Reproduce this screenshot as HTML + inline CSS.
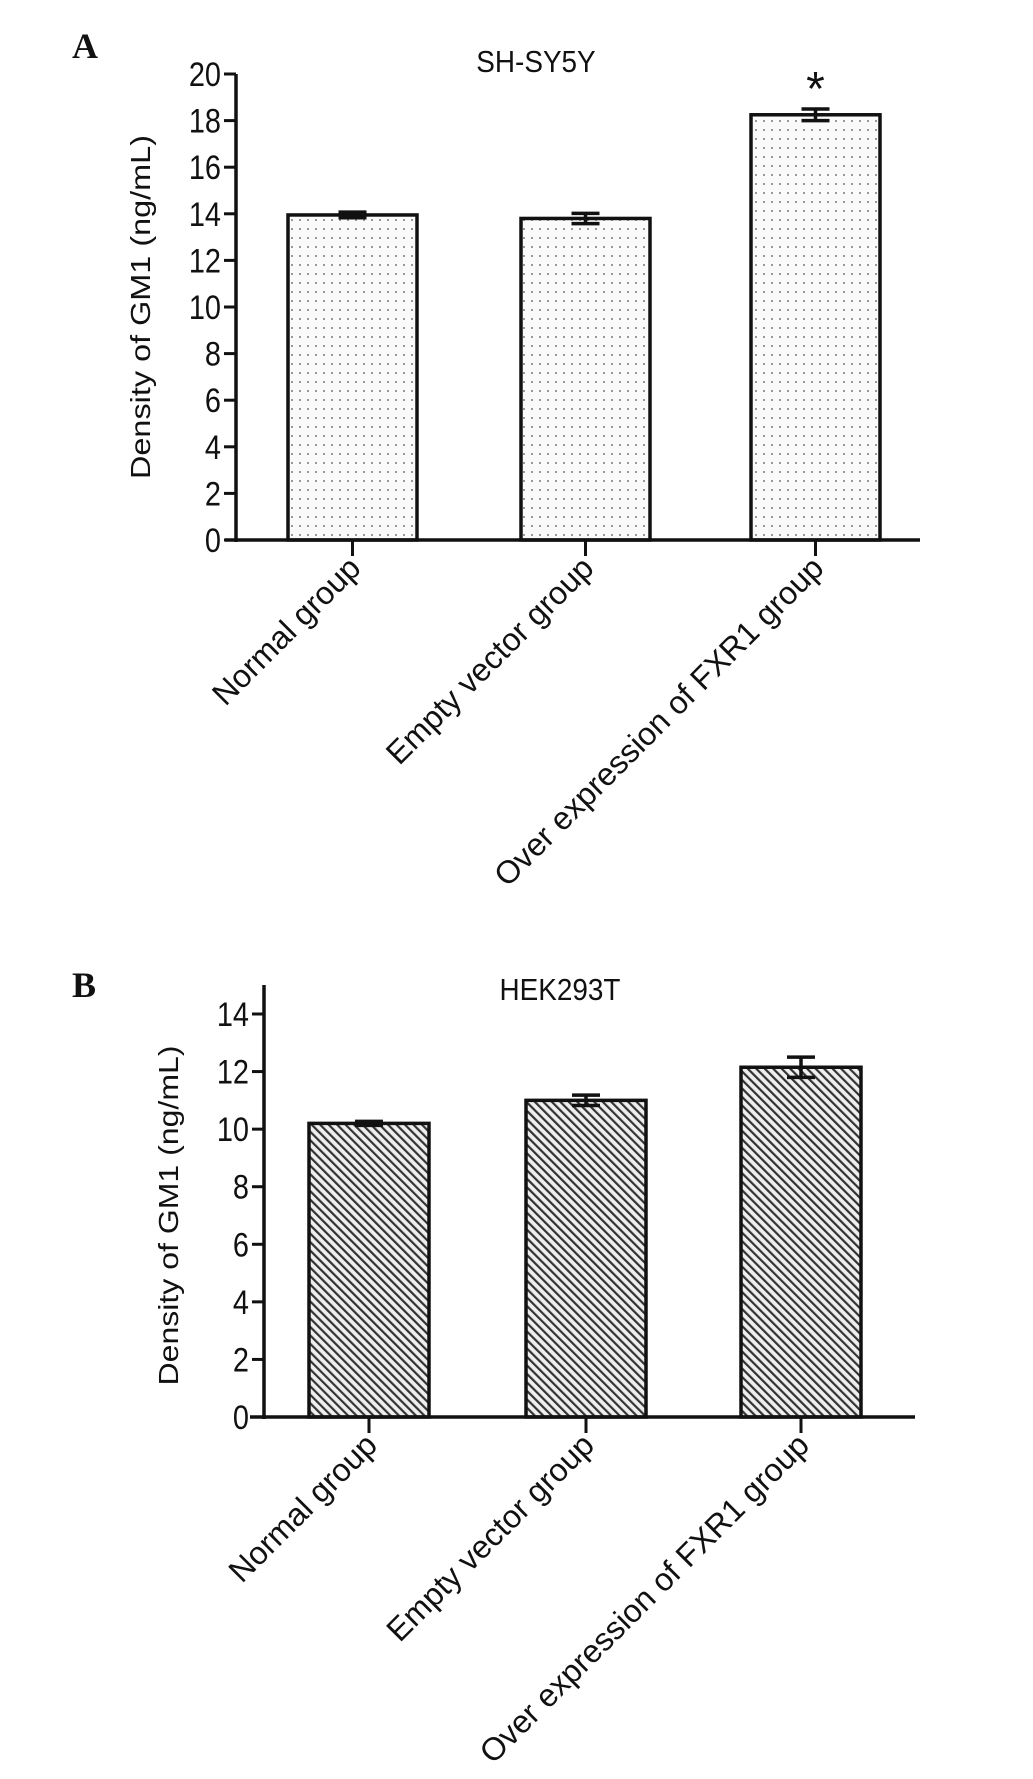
<!DOCTYPE html>
<html><head><meta charset="utf-8"><style>
body{margin:0;background:#fff}
svg{display:block}
text{font-family:"Liberation Sans",Arial,sans-serif;fill:#111}
</style></head><body>
<svg id="fig" width="1033" height="1779" viewBox="0 0 1033 1779" xmlns="http://www.w3.org/2000/svg">
<defs>
<pattern id="dots" width="8" height="9" patternUnits="userSpaceOnUse">
<rect width="8" height="9" fill="#fafafa"/><rect x="3" y="3" width="2" height="2" fill="#999"/>
</pattern>
<pattern id="hatch" width="6" height="6" patternUnits="userSpaceOnUse" patternTransform="rotate(-45)">
<rect width="6" height="6" fill="#eee"/><rect x="0" y="0" width="2.2" height="6" fill="#333"/>
</pattern>
</defs>
<text x="72" y="58" style="font-family:'Liberation Serif',serif;font-weight:bold;font-size:36px">A</text>
<text x="72" y="997" style="font-family:'Liberation Serif',serif;font-weight:bold;font-size:36px">B</text>
<g id="chartA"></g>
<g id="chartB"></g>
</svg>
<script>
const categories = ["Normal group","Empty vector group","Over expression of FXR1 group"];
const valuesA = [13.95, 13.8, 18.25];
const errorsA = [0.12, 0.22, 0.25];
const ticksA = [0,2,4,6,8,10,12,14,16,18,20];
const valuesB = [10.2, 11.0, 12.15];
const errorsB = [0.07, 0.18, 0.35];
const ticksB = [0,2,4,6,8,10,12,14];
const NS = "http://www.w3.org/2000/svg";
function mk(parent, tag, attrs, txt){
  const e = document.createElementNS(NS, tag);
  for (const k in attrs) e.setAttribute(k, attrs[k]);
  if (txt !== undefined) e.textContent = txt;
  parent.appendChild(e); return e;
}
function draw(cfg){
  const g = document.getElementById(cfg.id);
  const y = v => cfg.y0 - (v - 0) * (cfg.y0 - cfg.yTop) / (cfg.vTop);
  const t = mk(g,"text",{x:cfg.titleX,y:cfg.titleY,"text-anchor":"middle","font-size":31,transform:`translate(${cfg.titleX} 0) scale(0.9 1) translate(${-cfg.titleX} 0)`},cfg.title);
  
  
  const yl = mk(g,"text",{x:0,y:0,"text-anchor":"middle","font-size":28,textLength:cfg.ylLen,lengthAdjust:"spacingAndGlyphs",transform:`translate(${cfg.ylX} ${(cfg.yTop+cfg.y0)/2}) rotate(-90)`},"Density of GM1 (ng/mL)");
  
  
  categories.forEach((c,i)=>{
    const x0 = cfg.barX[i], w = cfg.barW;
    const v = cfg.values[i], e = cfg.errors[i];
    const r = mk(g,"rect",{x:x0,y:y(v),width:w,height:cfg.y0-y(v),fill:cfg.fill,stroke:"#111","stroke-width":3.5});
    
    
    const cx = x0 + w/2;
    const eb = mk(g,"path",{d:`M${cx-14},${y(v+e)}H${cx+14}M${cx},${y(v+e)}V${y(v-e)}M${cx-14},${y(v-e)}H${cx+14}`,stroke:"#111","stroke-width":3.5,fill:"none"});
    
    
    mk(g,"line",{x1:cx,x2:cx,y1:cfg.y0,y2:cfg.y0+16,stroke:"#111","stroke-width":3});
    const lx = cx + cfg.lblDx, ly = cfg.y0 + cfg.lblDy;
    const lb = mk(g,"text",{x:lx,y:ly,"text-anchor":"end","font-size":32,transform:`rotate(-45 ${lx} ${ly})`},c);
    
    
  });
  const ya = mk(g,"line",{x1:cfg.axX,x2:cfg.axX,y1:cfg.axTop,y2:cfg.y0+2,stroke:"#111","stroke-width":3.5});
  
  
  const xa = mk(g,"line",{x1:cfg.xaL,x2:cfg.xaR,y1:cfg.y0,y2:cfg.y0,stroke:"#111","stroke-width":3.5});
  
  
  cfg.ticks.forEach(tv=>{
    mk(g,"line",{x1:cfg.axX-12,x2:cfg.axX,y1:y(tv),y2:y(tv),stroke:"#111","stroke-width":3});
    const tl = mk(g,"text",{x:cfg.axX-15,y:y(tv)+12,"text-anchor":"end","font-size":34,transform:`translate(${cfg.axX-15} 0) scale(0.85 1) translate(${-(cfg.axX-15)} 0)`},String(tv));
    
    
  });
  if (cfg.star){
    const i=2, cx=cfg.barX[i]+cfg.barW/2;
    const s = mk(g,"text",{x:cx,y:y(cfg.values[i]+cfg.errors[i])-4,"text-anchor":"middle","font-size":48},"*");
    
    
  }
}
draw({id:"chartA",title:"SH-SY5Y",titleX:536,titleY:72,values:valuesA,errors:errorsA,ticks:ticksA,
  y0:540,yTop:74,vTop:20,axX:236,axTop:74,xaL:225,xaR:920,barX:[288,521,751],barW:129,fill:"url(#dots)",
  ylX:150,ylLen:344,lblDx:10,lblDy:30,star:true});
draw({id:"chartB",title:"HEK293T",titleX:560,titleY:1000,values:valuesB,errors:errorsB,ticks:ticksB,
  y0:1417,yTop:1014,vTop:14,axX:264,axTop:985,xaL:250,xaR:915,barX:[309,526,741],barW:120,fill:"url(#hatch)",
  ylX:178,ylLen:340,lblDx:10,lblDy:30,star:false});
</script>
</body></html>
